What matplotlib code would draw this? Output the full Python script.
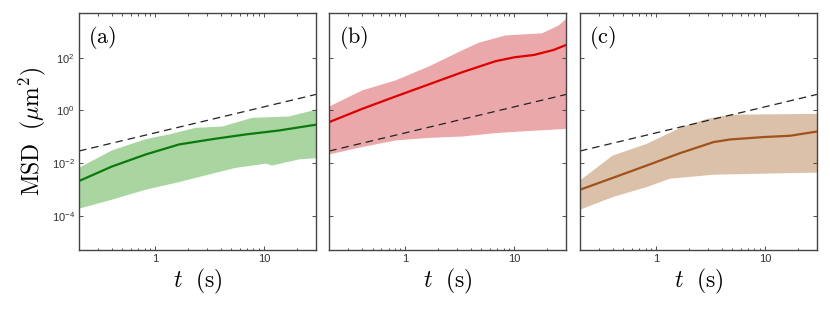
import numpy as np
import matplotlib.pyplot as plt
from matplotlib.ticker import LogLocator, NullFormatter, FixedLocator

plt.rcParams['mathtext.fontset'] = 'cm'

# -----------------------------
# Data (t in s, log10 of MSD in um^2)
# -----------------------------
# panel (a)
a_t_line = [0.2, 0.40, 0.82, 1.66, 3.35, 6.78, 13.7, 30.0]
a_line = [-2.68, -2.13, -1.67, -1.29, -1.09, -0.91, -0.76, -0.54]
a_t_hi = [0.2, 0.40, 0.82, 1.34, 2.36, 4.14, 7.8, 16.9, 30.0]
a_hi = [-2.18, -1.52, -1.09, -0.91, -0.66, -0.61, -0.28, -0.23, 0.03]
a_t_lo = [0.2, 0.40, 0.82, 1.66, 3.35, 5.5, 10.4, 11.9, 20.9, 30.0]
a_lo = [-3.73, -3.39, -3.01, -2.72, -2.40, -2.18, -2.02, -2.09, -1.86, -1.81]

# panel (b)
b_t_line = [0.2, 0.40, 0.81, 1.64, 3.31, 6.7, 10.0, 15.2, 23.0, 30.0]
b_line = [-0.44, 0.06, 0.53, 0.99, 1.45, 1.87, 2.02, 2.11, 2.30, 2.49]
b_t_hi = [0.2, 0.40, 0.81, 1.64, 3.31, 4.7, 8.3, 18.0, 25.6, 30.0]
b_hi = [0.15, 0.76, 1.14, 1.67, 2.28, 2.57, 2.85, 2.93, 3.23, 3.48]
b_t_lo = [0.2, 0.40, 0.81, 1.64, 3.31, 6.7, 13.5, 30.0]
b_lo = [-1.67, -1.39, -1.14, -1.04, -0.99, -0.86, -0.78, -0.70]

# panel (c)
c_t_line = [0.2, 0.40, 0.82, 1.66, 3.37, 4.8, 9.7, 17.0, 30.0]
c_line = [-3.01, -2.56, -2.09, -1.62, -1.20, -1.10, -1.01, -0.96, -0.80]
c_t_hi = [0.2, 0.40, 0.82, 1.66, 2.92, 4.8, 30.0]
c_hi = [-2.66, -1.71, -1.27, -0.66, -0.32, -0.16, -0.13]
c_t_lo = [0.2, 0.40, 0.82, 1.34, 3.37, 9.7, 30.0]
c_lo = [-3.77, -3.29, -2.91, -2.59, -2.44, -2.40, -2.36]

# reference slope-1 dashed line (same in all panels)
dash_t = [0.2, 30.0]
dash_msd = [-1.54, 0.61]

panels = [
    ("(a)", a_t_line, a_line, a_t_hi, a_hi, a_t_lo, a_lo, "#0b7a0b", "#a9d5a1"),
    ("(b)", b_t_line, b_line, b_t_hi, b_hi, b_t_lo, b_lo, "#dc0000", "#eba8aa"),
    ("(c)", c_t_line, c_line, c_t_hi, c_hi, c_t_lo, c_lo, "#a0521a", "#dbc1a9"),
]

# -----------------------------
# Figure
# -----------------------------
fig = plt.figure(figsize=(8.3, 3.3), dpi=100)
lefts = [0.0952, 0.3967, 0.6988]

for i, (lab, tl, yl, th, hi, tlo, lo, lc, fc) in enumerate(panels):
    ax = fig.add_axes([lefts[i], 0.2424, 0.2855, 0.718])

    # shaded band: upper edge out, lower edge back
    band_t = list(th) + list(tlo)[::-1]
    band_y = [10**v for v in hi] + [10**v for v in lo][::-1]
    ax.fill(band_t, band_y, color=fc, lw=0)
    ax.plot(tl, [10**v for v in yl], color=lc, lw=1.6, solid_capstyle='butt')
    ax.plot(dash_t, [10**v for v in dash_msd], color='#222222', lw=0.9,
            dashes=(6, 4))

    ax.set_xscale('log')
    ax.set_yscale('log')
    ax.set_xlim(0.2, 30)
    ax.set_ylim(10**-5.3, 10**3.7)

    ax.xaxis.set_major_locator(FixedLocator([1, 10]))
    ax.set_xticklabels(['1', '10'])
    ax.xaxis.set_minor_locator(LogLocator(base=10, subs=np.arange(2, 10)))
    ax.xaxis.set_minor_formatter(NullFormatter())
    ax.yaxis.set_major_locator(FixedLocator([1e-4, 1e-2, 1, 1e2]))
    ax.yaxis.set_minor_locator(FixedLocator([]))
    if i == 0:
        ax.set_yticklabels(['$\\mathregular{10^{-4}}$', '$\\mathregular{10^{-2}}$',
                            '$\\mathregular{10^{0}}$', '$\\mathregular{10^{2}}$'])
        ax.set_ylabel(r'$\mathrm{MSD}\ \ (\mu\mathrm{m}^2)$', fontsize=17, labelpad=3)
    else:
        ax.set_yticklabels([])

    ax.tick_params(which='both', direction='in', top=True, right=True,
                   labelsize=8, colors='#333333', pad=3)
    ax.tick_params(which='major', length=3, width=0.6)
    ax.tick_params(which='minor', length=1.8, width=0.6)
    for lbl in ax.get_xticklabels() + ax.get_yticklabels():
        lbl.set_family('Liberation Sans')
    for sp in ax.spines.values():
        sp.set_color('#444444')
        sp.set_linewidth(1.0)

    ax.set_xlabel(r'$t\ \ (\mathrm{s})$', fontsize=17, labelpad=2)
    ax.text(0.04, 0.955, r'$\mathrm{' + lab + '}$', transform=ax.transAxes,
            fontsize=16, va='top', ha='left')

fig.savefig('out.png', dpi=100)
